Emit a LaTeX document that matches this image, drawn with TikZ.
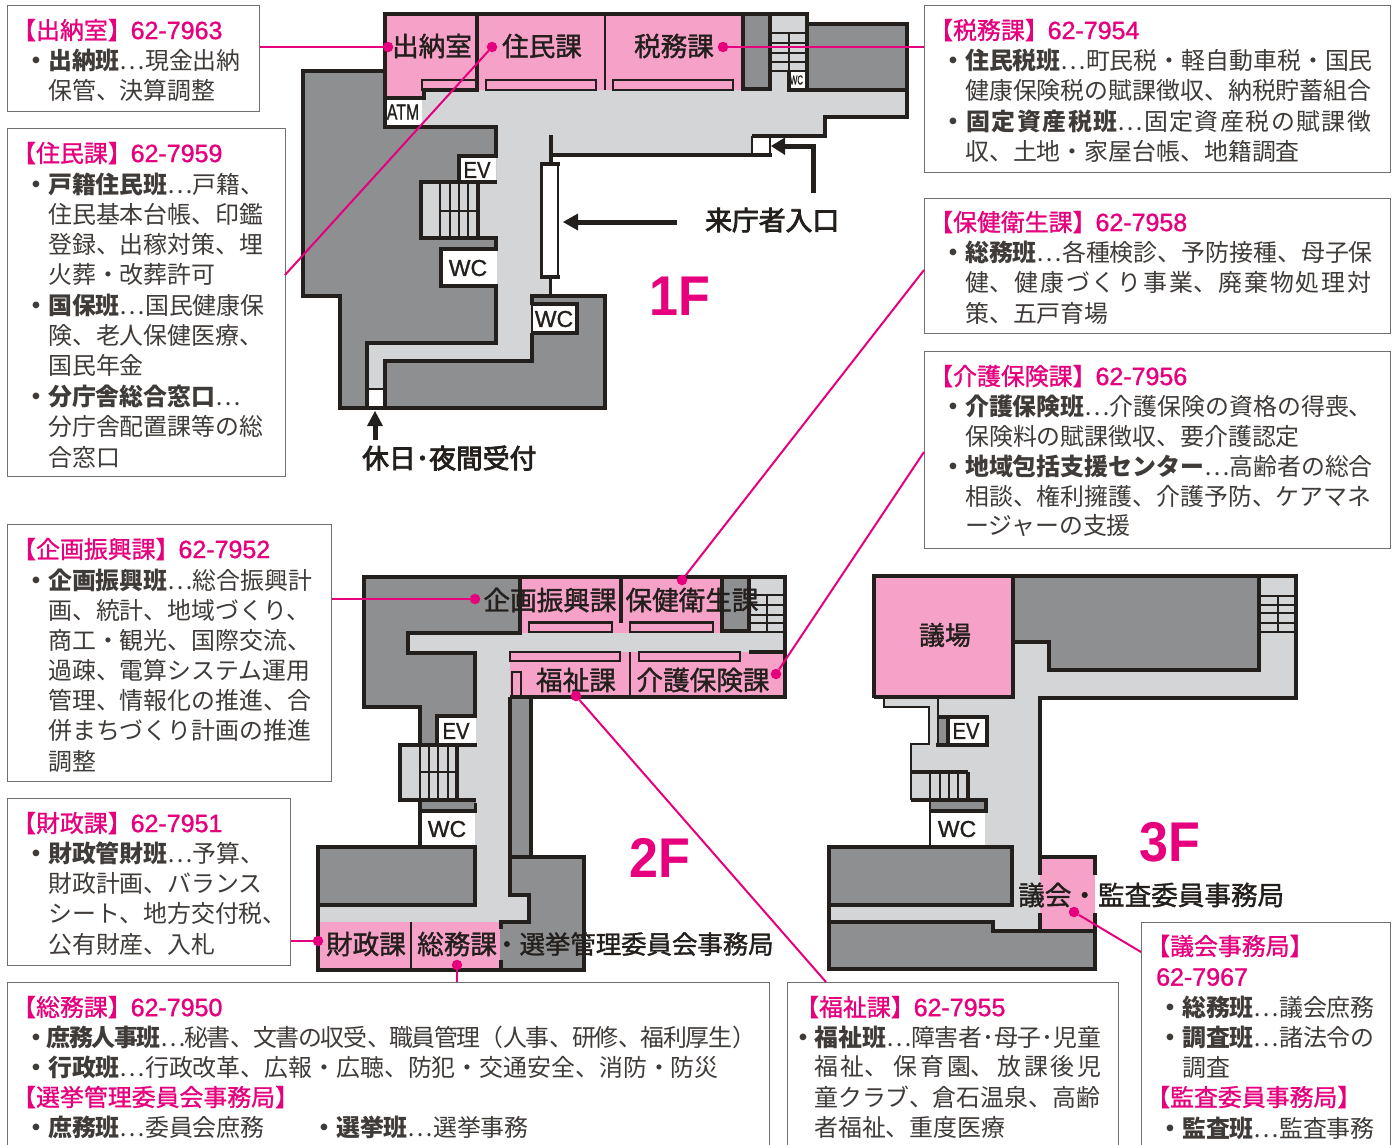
\documentclass[tikz,border=0pt]{standalone}
\usepackage{fontspec}
\usepackage{graphicx}
\setmainfont{Noto Sans CJK JP}
\newfontfamily\latn{Liberation Sans}
\newfontfamily\latnb[FakeBold=1.2]{Liberation Sans}
\newfontfamily\semijp[FakeBold=1.0]{Noto Sans CJK JP}
\newfontfamily\roomjp[FakeBold=1.4]{Noto Sans CJK JP}
\newfontfamily\plainjp[FakeBold=3.0]{Noto Sans CJK JP}
\XeTeXlinebreaklocale "ja"
\XeTeXlinebreakskip=0pt plus 1fil minus 10pt
\definecolor{pinkroom}{HTML}{F6A2C8}
\definecolor{mag}{HTML}{E6007E}
\definecolor{darkroom}{HTML}{8E8F91}
\definecolor{literoom}{HTML}{D4D5D7}
\definecolor{wallc}{HTML}{231F1C}
\definecolor{boxc}{HTML}{707070}
\definecolor{bodyc}{HTML}{3F3B39}
\newcounter{tn}
\tikzset{
  wall/.style={draw=wallc,line width=4pt,line cap=butt,line join=miter},
  thinwall/.style={draw=wallc,line width=2.4pt,line cap=butt,line join=miter},
  tread/.style={draw=wallc,line width=1.8pt},
  pk/.style={fill=pinkroom},
  dk/.style={fill=darkroom},
  lt/.style={fill=literoom},
  wh/.style={fill=white},
  lead/.style={draw=mag,line width=2pt},
  dot/.style={circle,fill=mag,inner sep=0pt,minimum size=10.5pt},
  infobox/.style={draw=boxc,line width=.9pt,fill=white,anchor=north west,inner sep=0pt},
  body/.style={anchor=west,inner sep=0pt,text=bodyc,font=\fontsize{23.9}{28}\selectfont},
  head/.style={anchor=west,inner sep=0pt,text=mag,font=\semijp\fontsize{23.9}{28}\selectfont},
  room/.style={anchor=center,inner sep=0pt,text=wallc,font=\roomjp\fontsize{26.6}{30}\selectfont},
  plain/.style={anchor=center,inner sep=0pt,text=wallc,font=\plainjp\fontsize{26.8}{30}\selectfont},
  tag/.style={anchor=center,inner sep=0pt,text=wallc,font=\latnb\fontsize{23}{26}\selectfont},
  floorname/.style={anchor=center,inner sep=0pt,text=mag,font=\latn\bfseries\fontsize{56}{60}\selectfont},
}
% body line: x, y, text
\newcommand{\TL}[3]{\stepcounter{tn}\node[body] (t\thetn) at (#1-1,#2) {#3};}
% body line justified to a given width
\newcommand{\TJ}[4]{\stepcounter{tn}\node[body] (t\thetn) at (#1-1,#2+3) {\parbox{#3pt}{\parfillskip=0pt\parindent=0pt\strut #4}};}
% heading line
\newcommand{\HL}[3]{\stepcounter{tn}\node[head] (t\thetn) at (#1-4,#2) {#3};}
\newcommand{\num}[1]{\hspace{-1pt}{\latnb\fontsize{25}{28}\selectfont #1}}
\newcommand{\Bx}[5]{\node[infobox,minimum width=#4pt,minimum height=#5pt] (#1) at (#2,#3) {};}
\begin{document}
\begin{tikzpicture}[x=1pt,y=-1pt]
\clip (0,0) rectangle (1396,1144);
\useasboundingbox (0,0) rectangle (1396,1144);

%%%%%%%%%% 1F
\fill[lt] (422,90)--(907,90)--(907,117)--(825,117)--(825,136)--(751,136)--(751,155)--(551,155)--(551,296)--(532,296)--(532,361)--(385,361)--(385,389)--(367,389)--(367,343)--(496,343)--(496,127)--(422,127)--cycle;
\fill[dk] (303,71)--(385,71)--(385,127)--(496,127)--(496,343)--(367,343)--(367,408)--(338,408)--(338,296)--(303,296)--cycle;
\fill[lt] (478,182) rectangle (497,238);
\fill[dk] (385,361)--(532,361)--(532,296)--(605,296)--(605,408)--(385,408)--cycle;
\fill[pk] (385,14)--(741,14)--(741,90)--(422,90)--(422,98)--(385,98)--cycle;
\fill[dk] (742,14) rectangle (770,90);
\fill[lt] (770,14) rectangle (807,90);
\fill[dk] (807,24) rectangle (907,90);
\fill[wh] (387,98) rectangle (422,125);
\fill[wh] (789,72) rectangle (805,88);
\fill[lt] (421,182) rectangle (478,238);
\fill[wh] (459,158) rectangle (496,181);
\fill[wh] (440,249) rectangle (497,286);
\fill[wh] (532,304) rectangle (577,333);
\fill[wh] (367,390) rectangle (384,408);
\fill[wh] (752,137) rectangle (770,154);
\fill[wh] (541,164) rectangle (558,277);
% walls
\draw[wall] (385,71)--(303,71)--(303,296)--(340,296)--(340,408)--(605,408)--(605,296)--(532,296)--(532,305);
\draw[wall] (385,408)--(385,361)--(532,361)--(532,333);
\draw[thinwall] (532,333)--(532,304);
\draw[wall] (367,408)--(367,343)--(496,343)--(496,286);
\draw[wall] (496,249)--(496,236);
\draw[wall] (496,157)--(496,127)--(385,127)--(385,14)--(807,14)--(807,24)--(907,24)--(907,117)--(825,117)--(825,136)--(752,136);
\draw[wall] (385,98)--(424,98)--(424,90);
\draw[thinwall] (367,389)--(385,389);
\draw[thinwall] (752,136)--(752,155);
\draw[thinwall] (770,137)--(770,155);
\draw[wall] (772,155)--(551,155)--(551,137);
\draw[wall] (477,14)--(477,90)--(422,90);
\draw[thinwall] (422,80) rectangle (477,90);
\draw[thinwall] (605,14)--(605,90);
\draw[thinwall] (486,80) rectangle (596,90);
\draw[thinwall] (613,80) rectangle (733,90);
\draw[wall] (743,14)--(743,89)--(770,89)--(770,14);
\draw[wall] (789,72)--(789,90)--(905,90);
\draw[wall] (807,14)--(807,90);
\foreach \ty in {33,43,53,62,71} \draw[tread] (771,\ty)--(806,\ty);
\draw[tread] (789,33)--(789,72);
% stairs / EV
\draw[wall] (498,156)--(459,156)--(459,182);
\draw[wall] (497,182)--(421,182)--(421,238)--(498,238);
\foreach \sx in {440,450,459,468} \draw[tread] (\sx,184)--(\sx,237);
\draw[wall] (478,182)--(478,238);
\draw[tread] (440,211)--(478,211);
% WC
\draw[wall] (498,249)--(441,249)--(441,286)--(498,286);
\draw[wall] (532,304)--(577,304)--(577,333)--(532,333);
\draw[wall] (550.5,135)--(550.5,163);
\draw[thinwall] (541.5,164)--(541.5,277)--(558,277)--(558,164);
\draw[wall] (540,164)--(559.5,164);
\draw[wall] (540,277)--(559.5,277);
\draw[wall,line width=3pt] (550,277)--(550,296);
\node[inner sep=0pt,text=wallc,font=\latnb\fontsize{22}{24}\selectfont] (atm) at (403,112) {\scalebox{.72}[1]{ATM}};
\node[inner sep=0pt,text=wallc,font=\latnb\fontsize{13}{14}\selectfont] (wcs) at (796.5,80) {\scalebox{.6}[1]{WC}};
\node[tag] (ev1) at (477,170) {\scalebox{.88}[1]{EV}};
\node[tag] (wc1a) at (468,268) {WC};
\node[tag] (wc1b) at (554,319) {WC};
\node[room] (rA) at (432,46) {出納室};
\node[room] (rB) at (542,46) {住民課};
\node[room] (rC) at (674,46) {税務課};
% arrows
\coordinate (arA0) at (813,193);
\coordinate (arA1) at (813,146);
\coordinate (arA2) at (783,146);
\draw[draw=wallc,line width=5pt,line join=miter] (arA0)--(arA1)--(arA2);
\fill[wallc] (771,146)--(785,137.5)--(785,155)--cycle;
\coordinate (arB0) at (677,222);
\coordinate (arB1) at (576,222);
\draw[draw=wallc,line width=5pt] (arB0)--(arB1);
\fill[wallc] (563,222)--(578,213.5)--(578,230.5)--cycle;
\coordinate (arC0) at (375,440);
\coordinate (arC1) at (375,424);
\draw[draw=wallc,line width=5pt] (arC0)--(arC1);
\fill[wallc] (375,411)--(383,426)--(367,426)--cycle;
\node[plain,anchor=west] (lent) at (705,220) {来庁者入口};
\node[plain,anchor=west] (lnight) at (362,458) {休日･夜間受付};
\node[floorname] (f1) at (680,296) {\scalebox{.93}[1]{1F}};

%%%%%%%%%% 2F
\fill[lt] (408,633)--(785,633)--(785,652)--(510,652)--(510,895)--(529,895)--(529,922)--(320,922)--(320,905)--(475,905)--(475,800)--(457,800)--(457,745)--(475,745)--(475,653)--(408,653)--cycle;
\fill[dk] (364,578)--(522,578)--(522,633)--(408,633)--(408,653)--(475,653)--(475,745)--(420,745)--(420,707)--(364,707)--cycle;
\fill[pk] (522,578)--(721,578)--(721,633)--(522,633)--cycle;
\fill[dk] (721,578) rectangle (749,631);
\fill[lt] (749,578) rectangle (785,633);
\fill[pk] (510,652) rectangle (785,697);
\fill[dk] (510,697) rectangle (530,857);
\fill[lt] (400,743) rectangle (457,800);
\fill[wh] (439,717) rectangle (476,743);
\fill[dk] (420,800) rectangle (476,811);
\fill[wh] (421,811) rectangle (475,847);
\fill[dk] (318,847) rectangle (475,905);
\fill[dk] (510,857)--(584,857)--(584,970)--(500,970)--(500,922)--(529,922)--(529,895)--(510,895)--cycle;
\fill[pk] (318,922) rectangle (500,970);
\draw[wall] (520,577)--(364,577)--(364,707)--(420,707)--(420,745);
\draw[wall] (520,576)--(520,633)--(408,633)--(408,653)--(475,653)--(475,716)--(437,716)--(437,745);
\draw[wall] (518,577)--(787,577);
\draw[wall] (785,577)--(785,697)--(510,697);
\draw[wall] (621,578)--(621,623);
\draw[wall] (722,578)--(722,631)--(749,631)--(749,578);
\draw[thinwall] (529,622.5) rectangle (612,632);
\draw[thinwall] (630,622.5) rectangle (713,632);
\draw[thinwall] (510,652) rectangle (620,661);
\draw[thinwall] (639,652) rectangle (740,661);
\draw[wall] (749,652)--(785,652);
\draw[thinwall] (630,652)--(630,697);
\draw[thinwall] (512,696)--(512,672)--(521,672)--(521,696);
\foreach \ty in {595,605,615,623,632} \draw[tread] (750,\ty)--(784,\ty);
\draw[tread] (767,595)--(767,632);
\draw[wall] (477,745)--(400,745)--(400,800)--(476,800);
\foreach \sx in {420,429,438,448} \draw[tread] (\sx,747)--(\sx,799);
\draw[wall] (457,745)--(457,800);
\draw[tread] (420,772)--(457,772);
\draw[wall] (420,800)--(420,847);
\draw[wall] (420,811)--(477,811);
\draw[thinwall] (475.5,803)--(475.5,812);
\draw[wall] (510,697)--(510,895)--(529,895)--(529,922)--(499,922);
\draw[wall] (531,697)--(531,857);
\draw[wall] (510,857)--(584,857)--(584,970)--(318,970)--(318,845);
\draw[wall] (316,847)--(476,847);
\draw[wall] (475,845)--(475,907);
\draw[wall] (316,905)--(477,905);
\draw[wall] (501,922)--(501,929);
\draw[wall] (501,960)--(501,968);
\draw[thinwall] (411,922)--(411,968);
\node[tag] (ev2) at (456,731) {\scalebox{.88}[1]{EV}};
\node[tag] (wc2) at (447,829) {WC};
\node[room] (rD) at (550,600) {企画振興課};
\node[room] (rE) at (692,600) {保健衛生課};
\node[room] (rF) at (576,680) {福祉課};
\node[room] (rG) at (703,680) {介護保険課};
\node[room] (rH) at (366,944) {財政課};
\node[room,anchor=west] (rI) at (417,944) {総務課};
\node[room,anchor=west,font=\roomjp\fontsize{25.4}{30}\selectfont] (rI2) at (494,944) {・選挙管理委員会事務局};
\node[floorname] (f2) at (660,858) {\scalebox{.93}[1]{2F}};

%%%%%%%%%% 3F
\fill[lt] (1015,642)--(1049,642)--(1049,670)--(1259,670)--(1259,578)--(1296,578)--(1296,697)--(1040,697)--(1040,931)--(992,931)--(992,922)--(830,922)--(830,904)--(1012,904)--(1012,847)--(985,847)--(985,800)--(911,800)--(911,744)--(929,744)--(929,707)--(883,707)--(883,698)--(1015,698)--cycle;
\fill[pk] (874,576) rectangle (1013,697);
\fill[dk] (1015,578)--(1259,578)--(1259,670)--(1049,670)--(1049,642)--(1015,642)--cycle;
\fill[pk] (1040,857) rectangle (1095,931);
\fill[dk] (830,847) rectangle (1012,904);
\fill[dk] (830,922)--(992,922)--(992,931)--(1095,931)--(1095,969)--(830,969)--cycle;
\fill[dk] (938,716) rectangle (950,745);
\fill[wh] (950,719) rectangle (985,743);
\fill[wh] (931,811) rectangle (985,847);
\fill[dk] (931,800) rectangle (985,811);
\draw[wall] (874,698)--(874,576)--(1296,576)--(1296,698)--(1040,698)--(1040,875);
\draw[wall] (874,697)--(1015,697);
\draw[wall] (1013,576)--(1013,699);
\draw[wall] (1015,642)--(1049,642)--(1049,670)--(1259,670)--(1259,576);
\foreach \ty in {596,605,613,623,632} \draw[tread] (1261,\ty)--(1294,\ty);
\draw[tread] (1278,596)--(1278,632);
\draw[thinwall] (884,698)--(884,707)--(929,707)--(929,744)--(911,744)--(911,800);
\draw[thinwall] (938,698)--(938,746);
\draw[wall] (938,717)--(987,717)--(987,745)--(936,745);
\draw[wall] (948,717)--(948,745);
\draw[wall] (910,772)--(968,772);
\foreach \sx in {930,940,949,958} \draw[tread] (\sx,773)--(\sx,799);
\draw[wall] (967.5,772)--(967.5,800);
\draw[wall] (911,800)--(987,800);
\draw[wall] (930,811)--(987,811);
\draw[wall] (986,798)--(986,813);
\draw[thinwall] (930,800)--(930,847);
\draw[wall] (829,847)--(1014,847);
\draw[wall] (1012,845)--(1012,906);
\draw[wall] (829,845)--(829,971);
\draw[wall] (827,904.5)--(1014,904.5);
\draw[wall] (827,922)--(993,922)--(993,931)--(1097,931);
\draw[wall] (827,969)--(1097,969);
\draw[wall] (1095,971)--(1095,913);
\draw[wall] (1094.5,875)--(1094.5,857);
\draw[wall] (1038,857)--(1096.5,857);
\draw[wall] (1040,913)--(1040,932);
\node[tag] (ev3) at (966,731) {\scalebox{.88}[1]{EV}};
\node[tag] (wc3) at (957,829) {WC};
\node[room,font=\roomjp\fontsize{26}{30}\selectfont] (rJ) at (945,635) {議場};
\node[room,anchor=west] (rK) at (1018,895) {議会・監査委員事務局};
\node[floorname] (f3) at (1170,842) {\scalebox{.93}[1]{3F}};

%%%%%%%%%% info boxes
\Bx{bA}{7}{5}{252}{106}
\Bx{bB}{7}{128}{278}{348}
\Bx{bC}{7}{524}{324}{257}
\Bx{bD}{7}{798}{283}{167}
\Bx{bE}{7}{982}{762}{180}
\Bx{bF}{924}{5}{466}{167}
\Bx{bG}{924}{198}{466}{135}
\Bx{bH}{924}{351}{466}{197}
\Bx{bI}{787}{982}{331}{180}
\Bx{bJ}{1141}{922}{249}{240}

% box A
\HL{16}{30}{【出納室】\num{62-7963}}
\TL{25}{60}{{\bfseries ・出納班}⋯現金出納}
\TL{49}{90}{保管、決算調整}
% box B
\HL{16}{153}{【住民課】\num{62-7959}}
\TL{25}{184}{{\bfseries ・戸籍住民班}⋯戸籍、}
\TL{49}{214}{住民基本台帳、印鑑}
\TL{49}{244}{登録、出稼対策、埋}
\TL{49}{274}{火葬・改葬許可}
\TL{25}{305}{{\bfseries ・国保班}⋯国民健康保}
\TL{49}{335}{険、老人保健医療、}
\TL{49}{365}{国民年金}
\TL{25}{396}{{\bfseries ・分庁舎総合窓口}⋯}
\TL{49}{426}{分庁舎配置課等の総}
\TL{49}{457}{合窓口}
% box C
\HL{16}{549}{【企画振興課】\num{62-7952}}
\TL{25}{580}{{\bfseries ・企画振興班}⋯総合振興計}
\TL{49}{610}{画、統計、地域づくり、}
\TL{49}{640}{商工・観光、国際交流、}
\TL{49}{670}{過疎、電算システム運用}
\TL{49}{700}{管理、情報化の推進、合}
\TL{49}{730}{併まちづくり計画の推進}
\TL{49}{761}{調整}
% box D
\HL{16}{823}{【財政課】\num{62-7951}}
\TL{25}{853}{{\bfseries ・財政管財班}⋯予算、}
\TL{49}{883}{財政計画、バランス}
\TL{49}{913}{シート、地方交付税、}
\TL{49}{944}{公有財産、入札}
% box E
\HL{16}{1007}{【総務課】\num{62-7950}}
\TJ{25}{1037}{732}{{\bfseries ・庶務人事班}⋯秘書、文書の収受、職員管理（人事、研修、福利厚生）}
\TL{25}{1067}{{\bfseries ・行政班}⋯行政改革、広報・広聴、防犯・交通安全、消防・防災}
\HL{16}{1097}{【選挙管理委員会事務局】}
\TL{25}{1127}{{\bfseries ・庶務班}⋯委員会庶務}
\TL{313}{1127}{{\bfseries ・選挙班}⋯選挙事務}
% box F
\HL{933}{30}{【税務課】\num{62-7954}}
\TL{942}{60}{{\bfseries ・住民税班}⋯町民税・軽自動車税・国民}
\TL{966}{90}{健康保険税の賦課徴収、納税貯蓄組合}
\TJ{942}{121}{430}{{\bfseries ・固定資産税班}⋯固定資産税の賦課徴}
\TL{966}{151}{収、土地・家屋台帳、地籍調査}
% box G
\HL{933}{222}{【保健衛生課】\num{62-7958}}
\TL{942}{252}{{\bfseries ・総務班}⋯各種検診、予防接種、母子保}
\TJ{966}{283}{406}{健、健康づくり事業、廃棄物処理対}
\TL{966}{313}{策、五戸育場}
% box H
\HL{933}{376}{【介護保険課】\num{62-7956}}
\TL{942}{406}{{\bfseries ・介護保険班}⋯介護保険の資格の得喪、}
\TL{966}{436}{保険料の賦課徴収、要介護認定}
\TL{942}{466}{{\bfseries ・地域包括支援センター}⋯高齢者の総合}
\TL{966}{496}{相談、権利擁護、介護予防、ケアマネ}
\TL{966}{526}{ージャーの支援}
% box I
\HL{799}{1007}{【福祉課】\num{62-7955}}
\TJ{792}{1037}{310}{{\bfseries ・福祉班}⋯障害者･母子･児童}
\TJ{815}{1067}{287}{福祉、 保育園、放課後児}
\TL{815}{1097}{童クラブ、倉石温泉、高齢}
\TL{815}{1127}{者福祉、重度医療}
% box J
\HL{1150}{946}{【議会事務局】}
\HL{1158}{977}{\hspace{3pt}\num{62-7967}}
\TL{1159}{1007}{{\bfseries ・総務班}⋯議会庶務}
\TL{1159}{1037}{{\bfseries ・調査班}⋯諸法令の}
\TL{1183}{1067}{調査}
\HL{1150}{1097}{【監査委員事務局】}
\TL{1159}{1128}{{\bfseries ・監査班}⋯監査事務}

%%%%%%%%%% leaders
\node[dot] (dA) at (388,47) {};
\node[dot] (dB) at (492,47) {};
\node[dot] (dC) at (723,47) {};
\node[dot] (dD) at (475,599) {};
\node[dot] (dE) at (682,580) {};
\node[dot] (dF) at (576,696) {};
\node[dot] (dG) at (776,674) {};
\node[dot] (dH) at (318,941) {};
\node[dot] (dI) at (457,965) {};
\node[dot] (dJ) at (1074,912) {};
\coordinate (eB) at (285,275);
\coordinate (eE) at (924,270);
\coordinate (eG) at (924,452);
\coordinate (eF) at (826,982);
\coordinate (eJ) at (1141,952);
\draw[lead] (dA)--(bA.east |- dA);
\draw[lead] (dB)--(eB);
\draw[lead] (dC)--(bF.west |- dC);
\draw[lead] (dD)--(bC.east |- dD);
\draw[lead] (dE)--(eE);
\draw[lead] (dF)--(eF);
\draw[lead] (dG)--(eG);
\draw[lead] (dH)--(bD.east |- dH);
\draw[lead] (dI)--(dI |- bE.north);
\draw[lead] (dJ)--(eJ);
\end{tikzpicture}
\end{document}
